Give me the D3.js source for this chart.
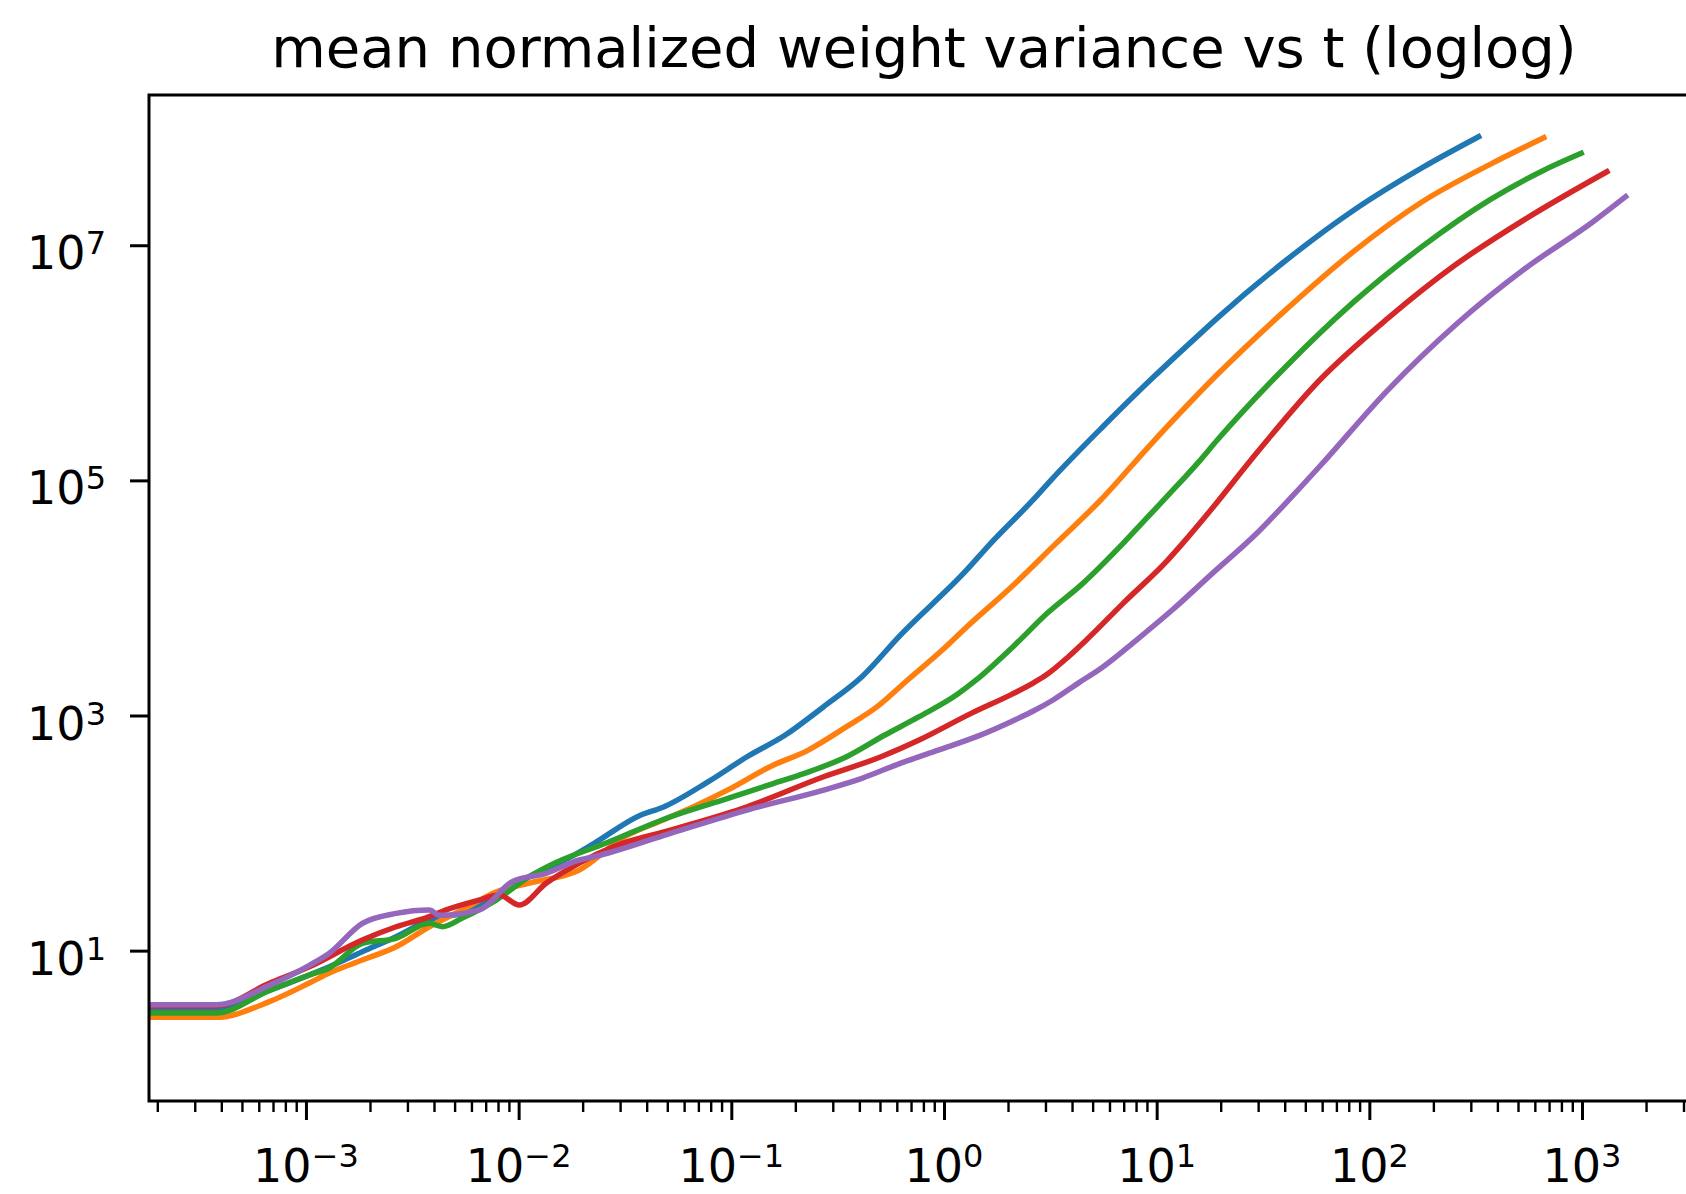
<!DOCTYPE html>
<html>
<head>
<meta charset="utf-8">
<script src="https://cdn.jsdelivr.net/npm/d3@7"></script>
<style>
  html, body { margin: 0; padding: 0; background: #ffffff; }
  svg { display: block; }
  text { font-family: "DejaVu Sans", sans-serif; fill: #000; }
</style>
</head>
<body>
<svg id="chart" width="1686" height="1194"></svg>
<script>
// ---------- data (log10 of t and of the variance) ----------
const chartTitle = "mean normalized weight variance vs t (loglog)";
const xTickExponents = [-3, -2, -1, 0, 1, 2, 3];
const yTickExponents = [1, 3, 5, 7];
const seriesColors = ["#1f77b4", "#ff7f0e", "#2ca02c", "#d62728", "#9467bd"];

const blueLogT = [-3.85, -3.422, -3.172, -2.984, -2.890, -2.735, -2.576, -2.420, -2.265, -2.106, -1.950, -1.753, -1.645, -1.430, -1.321, -1.106, -0.926, -0.746, -0.566, -0.386, -0.207, 0.108, 0.212, 0.422, 0.497, 0.749, 0.980, 1.200, 1.285, 1.607, 1.928, 2.249, 2.514];
const blueLogV = [0.504, 0.504, 0.661, 0.793, 0.863, 0.991, 1.118, 1.260, 1.320, 1.459, 1.629, 1.799, 1.913, 2.150, 2.220, 2.440, 2.649, 2.834, 3.075, 3.330, 3.680, 4.240, 4.450, 4.840, 4.990, 5.460, 5.870, 6.240, 6.380, 6.870, 7.300, 7.660, 7.923];

const orangeLogT = [-3.85, -3.422, -3.172, -2.984, -2.890, -2.735, -2.576, -2.420, -2.265, -2.106, -1.950, -1.715, -1.501, -1.321, -1.178, -1.016, -0.818, -0.638, -0.458, -0.314, -0.171, -0.008, 0.108, 0.318, 0.527, 0.737, 0.964, 1.285, 1.607, 1.928, 2.249, 2.570, 2.820];
const orangeLogV = [0.433, 0.433, 0.566, 0.725, 0.810, 0.920, 1.033, 1.203, 1.346, 1.499, 1.575, 1.686, 1.969, 2.111, 2.224, 2.367, 2.564, 2.706, 2.905, 3.075, 3.302, 3.557, 3.755, 4.095, 4.464, 4.833, 5.290, 5.900, 6.450, 6.950, 7.370, 7.690, 7.914];

const greenLogT = [-3.85, -3.422, -3.172, -2.984, -2.890, -2.735, -2.576, -2.420, -2.359, -2.265, -2.106, -1.950, -1.824, -1.591, -1.286, -1.016, -0.800, -0.656, -0.458, -0.278, -0.117, 0.063, 0.150, 0.333, 0.485, 0.653, 0.842, 0.964, 1.052, 1.199, 1.285, 1.607, 1.928, 2.249, 2.570, 2.811, 2.996];
const greenLogV = [0.470, 0.470, 0.661, 0.793, 0.853, 1.062, 1.105, 1.232, 1.204, 1.277, 1.430, 1.629, 1.750, 1.913, 2.139, 2.296, 2.423, 2.508, 2.649, 2.834, 2.990, 3.180, 3.300, 3.600, 3.869, 4.124, 4.464, 4.700, 4.870, 5.160, 5.343, 5.967, 6.520, 6.990, 7.390, 7.630, 7.782];

const redLogT = [-3.85, -3.422, -3.172, -2.984, -2.735, -2.576, -2.420, -2.341, -2.185, -2.091, -1.997, -1.871, -1.715, -1.555, -1.286, -0.926, -0.566, -0.296, -0.117, 0.130, 0.318, 0.423, 0.485, 0.585, 0.674, 0.842, 1.052, 1.120, 1.269, 1.446, 1.767, 2.088, 2.410, 2.731, 3.117];
const redLogV = [0.530, 0.530, 0.722, 0.863, 1.090, 1.203, 1.289, 1.346, 1.430, 1.473, 1.388, 1.573, 1.745, 1.884, 2.025, 2.224, 2.479, 2.649, 2.791, 3.020, 3.180, 3.280, 3.350, 3.500, 3.650, 3.954, 4.322, 4.460, 4.780, 5.180, 5.854, 6.380, 6.840, 7.220, 7.625];

const purpleLogT = [-3.85, -3.422, -3.172, -2.984, -2.890, -2.735, -2.576, -2.420, -2.373, -2.185, -2.030, -1.871, -1.715, -1.645, -1.286, -0.926, -0.566, -0.386, -0.206, -0.027, 0.153, 0.333, 0.422, 0.513, 0.635, 0.737, 0.905, 1.073, 1.262, 1.471, 1.640, 1.767, 2.088, 2.410, 2.731, 3.052, 3.205];
const purpleLogV = [0.540, 0.540, 0.705, 0.875, 0.978, 1.232, 1.317, 1.346, 1.300, 1.346, 1.586, 1.658, 1.771, 1.799, 1.998, 2.196, 2.366, 2.466, 2.593, 2.706, 2.820, 2.962, 3.040, 3.132, 3.280, 3.400, 3.642, 3.897, 4.209, 4.550, 4.870, 5.120, 5.770, 6.330, 6.800, 7.200, 7.413];

const xDomainLog = [-3.738, 3.55];
const yDomainLog = [-0.279, 8.278];

// ---------- layout ----------
const W = 1686, H = 1194;
const plot = { left: 149, right: 1699, top: 95, bottom: 1101 };
const pow10 = v => Math.pow(10, v);

const x = d3.scaleLog().domain(xDomainLog.map(pow10)).range([plot.left, plot.right]);
const y = d3.scaleLog().domain(yDomainLog.map(pow10)).range([plot.bottom, plot.top]);

const svg = d3.select("#chart");
svg.append("rect").attr("width", W).attr("height", H).attr("fill", "#ffffff");
svg.append("defs").append("clipPath").attr("id", "plotclip")
  .append("rect")
  .attr("x", plot.left).attr("y", plot.top)
  .attr("width", plot.right - plot.left).attr("height", plot.bottom - plot.top);

// ---------- lines ----------
const series = [
  { t: blueLogT, v: blueLogV },
  { t: orangeLogT, v: orangeLogV },
  { t: greenLogT, v: greenLogV },
  { t: redLogT, v: redLogV },
  { t: purpleLogT, v: purpleLogV }
];
const line = d3.line()
  .x(d => x(d[0]))
  .y(d => y(d[1]))
  .curve(d3.curveMonotoneX);
const gLines = svg.append("g").attr("clip-path", "url(#plotclip)");
series.forEach((s, i) => {
  const pts = d3.zip(s.t.map(pow10), s.v.map(pow10));
  gLines.append("path")
    .datum(pts)
    .attr("d", line)
    .attr("fill", "none")
    .attr("stroke", seriesColors[i])
    .attr("stroke-width", 5.5)
    .attr("stroke-linejoin", "round")
    .attr("stroke-linecap", "square");
});

// ---------- x axis ----------
const xMajor = xTickExponents.map(pow10);
const xMinor = [];
for (let k = -5; k <= 4; k++) for (let m = 2; m <= 9; m++) {
  const v = m * Math.pow(10, k);
  if (v >= x.domain()[0] && v <= x.domain()[1]) xMinor.push(v);
}
const gxMinor = svg.append("g").attr("transform", `translate(0,${plot.bottom})`)
  .call(d3.axisBottom(x).tickValues(xMinor).tickSize(11).tickSizeOuter(0).tickFormat(""));
gxMinor.select(".domain").remove();
gxMinor.selectAll(".tick line").attr("stroke", "#000").attr("stroke-width", 2.4);

const gx = svg.append("g").attr("transform", `translate(0,${plot.bottom})`)
  .call(d3.axisBottom(x).tickValues(xMajor).tickSize(19).tickSizeOuter(0).tickFormat(""));
gx.select(".domain").remove();
gx.selectAll(".tick line").attr("stroke", "#000").attr("stroke-width", 3);

const expText = e => (e < 0 ? "\u2212" + Math.abs(e) : String(e));

xTickExponents.forEach(e => {
  const t = gx.append("text")
    .attr("x", x(pow10(e)))
    .attr("y", 81)
    .attr("text-anchor", "middle")
    .attr("font-size", 46);
  t.append("tspan").text("10");
  t.append("tspan").attr("dy", -15).attr("font-size", 32).text(expText(e));
});

// ---------- y axis ----------
const yMajor = yTickExponents.map(pow10);
const gy = svg.append("g").attr("transform", `translate(${plot.left},0)`)
  .call(d3.axisLeft(y).tickValues(yMajor).tickSize(19).tickSizeOuter(0).tickFormat(""));
gy.select(".domain").remove();
gy.selectAll(".tick line").attr("stroke", "#000").attr("stroke-width", 3);

yTickExponents.forEach(e => {
  const t = gy.append("text")
    .attr("x", -43)
    .attr("y", y(pow10(e)) + 24)
    .attr("text-anchor", "end")
    .attr("font-size", 46);
  t.append("tspan").text("10");
  t.append("tspan").attr("dy", -15).attr("font-size", 32).text(expText(e));
});

// ---------- spines ----------
const spines = svg.append("g").attr("stroke", "#000").attr("stroke-width", 3).attr("fill", "none");
spines.append("rect")
  .attr("x", plot.left).attr("y", plot.top)
  .attr("width", plot.right - plot.left).attr("height", plot.bottom - plot.top);

// ---------- title ----------
svg.append("text")
  .attr("x", (plot.left + plot.right) / 2)
  .attr("y", 67)
  .attr("text-anchor", "middle")
  .attr("font-size", 56)
  .text(chartTitle);
</script>
</body>
</html>
